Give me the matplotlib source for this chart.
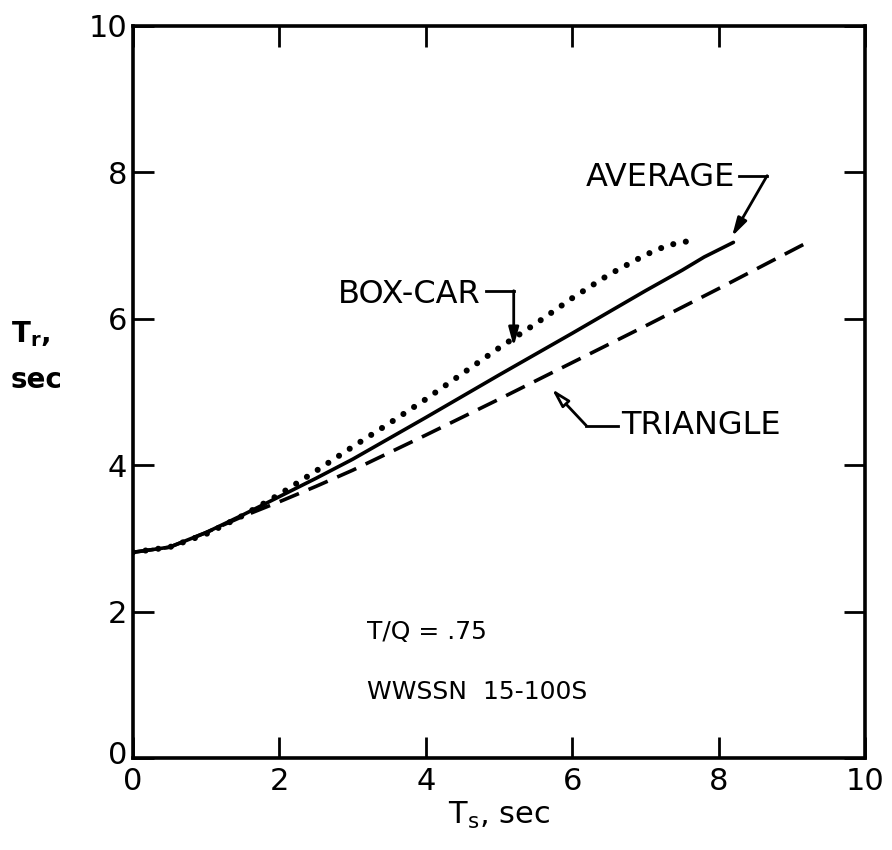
import matplotlib
matplotlib.use("Agg")
import matplotlib.pyplot as plt
import numpy as np

plt.rcParams['font.family'] = ['DejaVu Sans']
plt.rcParams['lines.scale_dashes'] = False

# curve readings (T_s, T_r) in seconds
boxcar_x = [0, 0.5, 1.0, 1.5, 2.0, 2.5, 3.0, 3.5, 4.0, 4.5, 5.0, 5.5, 6.0, 6.5, 7.0, 7.3, 7.65]
boxcar_y = [2.81, 2.88, 3.06, 3.31, 3.6, 3.92, 4.25, 4.57, 4.9, 5.25, 5.6, 5.93, 6.28, 6.6, 6.87, 7.0, 7.07]

average_x = [0, 0.5, 1.0, 1.5, 2.0, 2.5, 3.0, 4.0, 5.0, 6.0, 7.0, 7.5, 7.8, 8.2]
average_y = [2.81, 2.88, 3.08, 3.32, 3.57, 3.82, 4.08, 4.65, 5.23, 5.8, 6.38, 6.66, 6.84, 7.04]

triangle_x = [0, 0.5, 1.0, 1.5, 2.0, 2.5, 3.0, 4.0, 5.0, 6.0, 7.0, 8.0, 9.0, 9.25]
triangle_y = [2.81, 2.88, 3.08, 3.3, 3.5, 3.71, 3.93, 4.41, 4.9, 5.4, 5.9, 6.41, 6.93, 7.06]

ticks = [0, 2, 4, 6, 8, 10]

fig = plt.figure(figsize=(8.92, 8.5), dpi=100)
ax = fig.add_axes([0.149, 0.108, 0.821, 0.862])

ax.plot(average_x, average_y, color='black', lw=2.6, solid_capstyle='round',
        solid_joinstyle='round')
ax.plot(triangle_x, triangle_y, color='black', lw=2.6, dashes=(15, 7.5))
ax.plot(boxcar_x, boxcar_y, color='black', lw=4.4, dashes=(0.01, 9.2),
        dash_capstyle='round')

ax.set_xlim(0, 10)
ax.set_ylim(0, 10)
ax.set_xticks(ticks)
ax.set_yticks(ticks)
ax.set_xticklabels([str(t) for t in ticks])
ax.set_yticklabels([''] + [str(t) for t in ticks[1:]])
ax.tick_params(direction='in', length=15, width=2, labelsize=22,
               top=True, right=True, pad=6)
ax.tick_params(axis='y', pad=4)
for s in ax.spines.values():
    s.set_linewidth(2.6)

# y "0" sits just left of the corner
ax.text(-0.07, 0.04, '0', fontsize=22, ha='right', va='center')

ax.set_xlabel(r'T$_\mathregular{s}$, sec', fontsize=22, labelpad=3)
fig.text(0.012, 0.607, r'T$_\mathregular{r}$,', fontsize=20, fontweight='bold',
         va='center', ha='left')
fig.text(0.012, 0.553, 'sec', fontsize=20, fontweight='bold', va='center', ha='left')

# curve labels with hooked arrows
lab = dict(fontsize=23, va='center')
head = '-|>,head_length=1.1,head_width=0.3'

ax.text(8.22, 7.93, 'AVERAGE', ha='right', **lab)
ax.plot([8.28, 8.66], [7.95, 7.95], color='black', lw=2)
ax.annotate('', xy=(8.18, 7.12), xytext=(8.66, 7.95),
            arrowprops=dict(arrowstyle=head, color='black', lw=2,
                            shrinkA=0, shrinkB=0))

ax.text(4.75, 6.33, 'BOX-CAR', ha='right', **lab)
ax.plot([4.82, 5.2], [6.38, 6.38], color='black', lw=2)
ax.annotate('', xy=(5.2, 5.62), xytext=(5.2, 6.38),
            arrowprops=dict(arrowstyle=head, color='black', lw=2,
                            shrinkA=0, shrinkB=0))

ax.text(6.67, 4.54, 'TRIANGLE', ha='left', **lab)
ax.plot([6.19, 6.62], [4.54, 4.54], color='black', lw=2)
ax.annotate('', xy=(5.72, 5.04), xytext=(6.19, 4.54),
            arrowprops=dict(arrowstyle=head, fc='white', ec='black', lw=2,
                            shrinkA=0, shrinkB=0))

ax.text(3.2, 1.72, 'T/Q = .75', fontsize=18, va='center', ha='left')
ax.text(3.2, 0.9, 'WWSSN  15-100S', fontsize=18, va='center', ha='left')

fig.savefig('out.png', dpi=100, facecolor='white')
